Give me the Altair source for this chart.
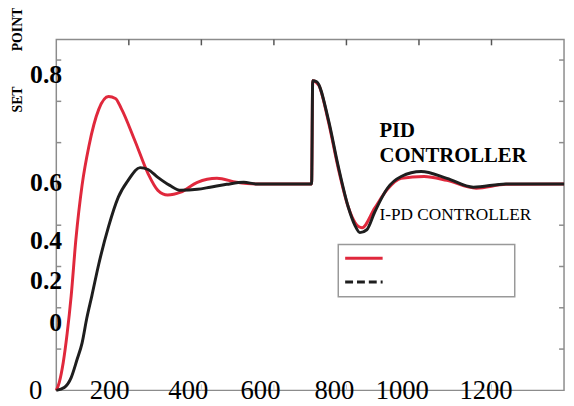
import altair as alt
import pandas as pd

# ---- data ----
pid_x = [0, 8, 19, 30, 41, 54, 71, 90, 117, 144, 163, 179, 217, 253, 280, 307, 343, 389, 443, 497, 552,
         704, 707, 723, 750, 777, 805, 824, 843, 878, 913, 951, 1014, 1077, 1158, 1240, 1400]
pid_y = [0, 0.038, 0.134, 0.277, 0.458, 0.731, 0.993, 1.184, 1.361, 1.423, 1.414, 1.366, 1.208, 1.050, 0.969,
         0.946, 0.960, 1.008, 1.027, 1.008, 1.0,
         1.0, 1.5, 1.48, 1.304, 1.079, 0.888, 0.812, 0.788, 0.883, 0.974, 1.027, 1.036, 1.017, 0.979, 0.998, 1.0]

ipd_x = [0, 22, 41, 57, 71, 84, 98, 117, 144, 171, 198, 231, 253, 280, 313, 343, 389, 424, 470, 517, 552,
         704, 707, 718, 750, 777, 805, 824, 837, 856, 878, 913, 951, 1006, 1077, 1150, 1240, 1400]
ipd_y = [0, 0.014, 0.062, 0.148, 0.229, 0.349, 0.458, 0.611, 0.793, 0.936, 1.017, 1.079, 1.070, 1.032, 0.993,
         0.969, 0.974, 0.984, 0.998, 1.008, 1.0,
         1.0, 1.5, 1.495, 1.313, 1.089, 0.888, 0.797, 0.764, 0.778, 0.864, 0.979, 1.036, 1.060, 1.027, 0.984, 1.0, 1.0]

x_ticks = [200, 400, 600, 800, 1000, 1200]
y_ticks = [0.2, 0.4, 0.6, 0.8, 1.0, 1.2, 1.4, 1.6]

x_labels = ["0", "200", "400", "600", "800", "1000", "1200"]
x_label_pos = [-57, 147, 364, 563, 767, 954, 1185]
x_label_y = -0.043

y_labels = ["0.8", "0.6", "0.4", "0.2", "0"]
y_label_pos = [1.528, 1.003, 0.721, 0.530, 0.325]
y_label_x = 16

ann_bold = ["PID", "CONTROLLER"]
ann_bold_y = [1.256, 1.137]
ann_x = 891
ann_plain = ["I-PD CONTROLLER"]
ann_plain_y = [0.850]

side_labels = ["SET", "POINT"]
side_label_y = [1.409, 1.748]
side_label_x = -106

RED = "#e0283c"
BLACK = "#1e1e1e"
FONT = "'Liberation Serif', 'Times New Roman', serif"

xs = alt.Scale(domain=[0, 1400], nice=False, zero=False)
ys = alt.Scale(domain=[0, 1.7], nice=False, zero=False)

W, H = 515, 356

lines_df = pd.concat([
    pd.DataFrame({"t": pid_x, "v": pid_y, "s": "PID"}),
    pd.DataFrame({"t": ipd_x, "v": ipd_y, "s": "I-PD"}),
])

lines = alt.Chart(lines_df).mark_line(strokeWidth=3, interpolate="monotone").encode(
    x=alt.X("t:Q", scale=xs, axis=None),
    y=alt.Y("v:Q", scale=ys, axis=None),
    color=alt.Color("s:N", scale=alt.Scale(domain=["PID", "I-PD"], range=[RED, BLACK]), legend=None),
    order=alt.Order("o:Q"),
).transform_calculate(o="datum.s == 'PID' ? 0 : 1")

tick_col = "#8c8c8c"
ydf = pd.DataFrame({"v": y_ticks})
xdf = pd.DataFrame({"t": x_ticks})
left_ticks = alt.Chart(ydf).mark_rule(color=tick_col, strokeWidth=1.5).encode(
    y=alt.Y("v:Q", scale=ys, axis=None), x=alt.value(0), x2=alt.value(5))
right_ticks = alt.Chart(ydf).mark_rule(color=tick_col, strokeWidth=1.5).encode(
    y=alt.Y("v:Q", scale=ys, axis=None), x=alt.value(W - 5), x2=alt.value(W))
top_ticks = alt.Chart(xdf).mark_rule(color="#555555", strokeWidth=1.5).encode(
    x=alt.X("t:Q", scale=xs, axis=None), y=alt.value(0), y2=alt.value(6))
bottom_ticks = alt.Chart(xdf).mark_rule(color="#cccccc", strokeWidth=1).encode(
    x=alt.X("t:Q", scale=xs, axis=None), y=alt.value(H - 6), y2=alt.value(H))

one = pd.DataFrame({"a": [0]})
legend_box = alt.Chart(one).mark_rect(fill="white", stroke="#999999", strokeWidth=1.5).encode(
    x=alt.value(286), x2=alt.value(465), y=alt.value(208), y2=alt.value(261))
legend_red = alt.Chart(one).mark_rule(color=RED, strokeWidth=3).encode(
    x=alt.value(293), x2=alt.value(331), y=alt.value(222))
legend_black = alt.Chart(one).mark_rule(color=BLACK, strokeWidth=3, strokeDash=[8, 4]).encode(
    x=alt.value(293), x2=alt.value(331), y=alt.value(246))

xl = alt.Chart(pd.DataFrame({"l": x_labels, "t": x_label_pos, "v": [x_label_y] * len(x_labels)})).mark_text(
    font=FONT, fontSize=27, align="center", baseline="alphabetic", color="black").encode(
    x=alt.X("t:Q", scale=xs, axis=None), y=alt.Y("v:Q", scale=ys, axis=None), text="l:N")

yl = alt.Chart(pd.DataFrame({"l": y_labels, "v": y_label_pos, "t": [y_label_x] * len(y_labels)})).mark_text(
    font=FONT, fontSize=26, fontWeight="bold", align="right", baseline="middle", color="black").encode(
    x=alt.X("t:Q", scale=xs, axis=None), y=alt.Y("v:Q", scale=ys, axis=None), text="l:N")

ab = alt.Chart(pd.DataFrame({"l": ann_bold, "v": ann_bold_y, "t": [ann_x] * 2})).mark_text(
    font=FONT, fontSize=21, fontWeight="bold", align="left", baseline="middle", color="black").encode(
    x=alt.X("t:Q", scale=xs, axis=None), y=alt.Y("v:Q", scale=ys, axis=None), text="l:N")

ap = alt.Chart(pd.DataFrame({"l": ann_plain, "v": ann_plain_y, "t": [ann_x]})).mark_text(
    font=FONT, fontSize=17.5, align="left", baseline="middle", color="black").encode(
    x=alt.X("t:Q", scale=xs, axis=None), y=alt.Y("v:Q", scale=ys, axis=None), text="l:N")

sl = alt.Chart(pd.DataFrame({"l": side_labels, "v": side_label_y, "t": [side_label_x] * 2})).mark_text(
    font=FONT, fontSize=14, fontWeight="bold", align="center", baseline="middle", angle=270, color="black").encode(
    x=alt.X("t:Q", scale=xs, axis=None), y=alt.Y("v:Q", scale=ys, axis=None), text="l:N")

chart = alt.layer(
    left_ticks, right_ticks, top_ticks, bottom_ticks, lines, legend_box, legend_red, legend_black,
    xl, yl, ab, ap, sl
).properties(
    width=W, height=H,
    autosize=alt.AutoSizeParams(type="none"),
    padding={"left": 49, "top": 29, "right": 2, "bottom": 13},
    background="white",
).configure_view(stroke="#8c8c8c", strokeWidth=1.5)

chart.save("out.html", embed_options={"renderer": "svg", "actions": False})
